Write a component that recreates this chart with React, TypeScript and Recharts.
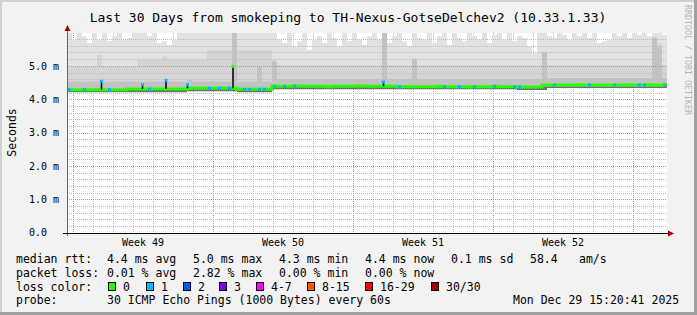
import { ComposedChart, Area, Line, XAxis, YAxis, ReferenceLine, CartesianGrid } from "recharts";

// Smokeping "Last 30 Days" graph: smoke bands + loss-coloured median.
// One column = 6 hours (120 columns over 30 days), values in ms.

const MEDIAN = [
  4.30, 4.30, 4.30, 4.30, 4.30, 4.30, 4.30, 4.30, 4.30, 4.30,
  4.30, 4.30, 4.32, 4.32, 4.32, 4.32, 4.32, 4.32, 4.32, 4.32,
  4.32, 4.32, 4.32, 4.32, 4.34, 4.34, 4.34, 4.34, 4.34, 4.34,
  4.34, 4.34, 4.34, 4.34, 4.31, 4.31, 4.31, 4.31, 4.31, 4.31,
  4.31, 4.40, 4.40, 4.40, 4.40, 4.41, 4.40, 4.40, 4.40, 4.40,
  4.40, 4.40, 4.39, 4.40, 4.40, 4.40, 4.40, 4.40, 4.41, 4.40,
  4.40, 4.40, 4.40, 4.40, 4.40, 4.40, 4.39, 4.39, 4.39, 4.39,
  4.39, 4.39, 4.39, 4.39, 4.40, 4.39, 4.39, 4.39, 4.39, 4.39,
  4.38, 4.39, 4.39, 4.39, 4.39, 4.40, 4.39, 4.39, 4.39, 4.39,
  4.38, 4.38, 4.38, 4.38, 4.38, 4.44, 4.44, 4.44, 4.44, 4.44,
  4.44, 4.44, 4.45, 4.44, 4.44, 4.44, 4.44, 4.44, 4.43, 4.44,
  4.44, 4.44, 4.45, 4.44, 4.44, 4.44, 4.45, 4.44, 4.44, 4.44,
];

// lost pings per column (0 = green, 1 = light blue)
const LOSS = [
  1, 0, 0, 1, 0, 0, 0, 0, 1, 0,
  0, 0, 0, 0, 0, 0, 1, 0, 0, 0,
  0, 0, 0, 0, 0, 0, 0, 0, 1, 0,
  1, 0, 1, 0, 0, 1, 1, 0, 1, 1,
  0, 1, 0, 1, 0, 1, 0, 0, 0, 0,
  0, 0, 0, 0, 0, 0, 0, 0, 0, 0,
  0, 0, 0, 0, 0, 0, 1, 0, 0, 0,
  0, 0, 0, 0, 0, 1, 0, 0, 1, 0,
  0, 1, 0, 0, 0, 1, 0, 0, 0, 1,
  1, 0, 0, 0, 0, 0, 0, 1, 0, 0,
  0, 0, 0, 0, 1, 0, 0, 0, 0, 1,
  0, 0, 0, 0, 1, 1, 0, 0, 0, 1,
];

// short latency spikes (position in columns, median before, peak, lost pings at peak)
const SPIKE_T = [6.9, 15.1, 19.8, 24.1, 33.2, 63.3];
const SPIKE_BASE = [4.30, 4.32, 4.32, 4.34, 4.34, 4.40];
const SPIKE_TOP = [4.55, 4.45, 4.58, 4.45, 5.00, 4.53];
const SPIKE_LOSS = [1, 1, 1, 1, 0, 1];

// fastest ping
const LOW = [
  4.22, 4.22, 4.22, 4.22, 4.22, 4.22, 4.22, 4.22, 4.22, 4.22,
  4.22, 4.22, 4.22, 4.22, 4.22, 4.22, 4.22, 4.22, 4.22, 4.22,
  4.22, 4.22, 4.22, 4.22, 4.25, 4.25, 4.25, 4.25, 4.25, 4.25,
  4.25, 4.25, 4.25, 4.25, 4.22, 4.22, 4.22, 4.22, 4.22, 4.22,
  4.22, 4.31, 4.31, 4.31, 4.31, 4.31, 4.31, 4.31, 4.31, 4.31,
  4.31, 4.31, 4.31, 4.31, 4.31, 4.31, 4.31, 4.31, 4.31, 4.31,
  4.31, 4.31, 4.31, 4.31, 4.31, 4.31, 4.31, 4.31, 4.31, 4.31,
  4.31, 4.31, 4.31, 4.31, 4.31, 4.31, 4.31, 4.31, 4.31, 4.31,
  4.31, 4.31, 4.31, 4.31, 4.31, 4.31, 4.31, 4.31, 4.31, 4.31,
  4.29, 4.29, 4.29, 4.29, 4.29, 4.29, 4.35, 4.35, 4.35, 4.35,
  4.35, 4.35, 4.35, 4.35, 4.35, 4.35, 4.35, 4.35, 4.35, 4.35,
  4.35, 4.35, 4.35, 4.35, 4.35, 4.35, 4.35, 4.35, 4.35, 4.35,
];

// top of the dense smoke just above the median
const INNER = [
  4.55, 4.55, 4.55, 4.55, 4.55, 4.55, 4.55, 4.55, 4.55, 4.55,
  4.55, 4.55, 4.55, 4.55, 4.55, 4.55, 4.55, 4.55, 4.55, 4.55,
  4.55, 4.55, 4.55, 4.55, 4.60, 4.55, 4.55, 4.55, 4.55, 4.55,
  4.55, 4.55, 4.55, 6.20, 4.55, 4.55, 4.55, 4.55, 5.00, 4.55,
  4.55, 5.15, 4.62, 4.62, 4.62, 4.62, 4.62, 4.62, 4.62, 4.62,
  4.62, 4.62, 4.62, 4.62, 4.62, 4.62, 4.62, 4.62, 4.62, 4.62,
  4.62, 4.62, 4.62, 6.20, 4.62, 4.62, 4.62, 4.62, 4.62, 5.20,
  4.62, 4.62, 4.62, 4.62, 4.62, 4.62, 4.62, 4.62, 4.62, 4.62,
  4.62, 4.62, 4.62, 4.62, 4.62, 4.62, 4.62, 4.62, 4.62, 4.62,
  4.62, 4.62, 4.62, 4.62, 4.62, 5.40, 4.66, 4.66, 4.66, 4.66,
  4.66, 4.66, 4.66, 4.66, 4.66, 4.66, 4.66, 4.66, 4.66, 4.66,
  4.66, 4.66, 4.66, 4.66, 4.66, 4.66, 4.66, 5.85, 5.60, 4.66,
];

// top of the medium smoke
const OUTER = [
  5.00, 5.00, 5.00, 5.00, 5.00, 5.00, 5.35, 5.00, 5.00, 5.00,
  5.00, 5.00, 5.00, 5.00, 5.20, 5.20, 5.20, 5.20, 5.20, 5.30,
  5.20, 5.20, 5.20, 5.20, 5.20, 5.20, 5.20, 5.20, 5.50, 5.50,
  5.50, 5.50, 5.50, 6.20, 5.50, 5.50, 5.50, 5.50, 5.50, 5.50,
  5.50, 5.20, 5.05, 5.05, 5.05, 5.05, 5.05, 5.05, 5.05, 5.05,
  5.05, 5.05, 5.05, 5.05, 5.05, 5.05, 5.05, 5.05, 5.05, 5.05,
  5.05, 5.05, 5.05, 6.20, 5.05, 5.05, 5.05, 5.05, 5.05, 5.25,
  5.05, 5.05, 5.05, 5.05, 5.05, 5.05, 5.05, 5.05, 5.05, 5.05,
  5.05, 5.05, 5.05, 5.05, 5.05, 5.05, 5.05, 5.05, 5.05, 5.05,
  5.05, 5.05, 5.05, 5.05, 5.05, 5.45, 5.05, 5.05, 5.05, 5.05,
  5.05, 5.05, 5.05, 5.05, 5.05, 5.05, 5.05, 5.05, 5.05, 5.05,
  5.05, 5.05, 5.05, 5.05, 5.05, 5.05, 5.05, 5.90, 5.70, 5.05,
];

// slowest ping (above 6.0 is clipped at the top of the graph)
const MAX = [
  6.20, 5.80, 6.00, 5.90, 5.70, 6.20, 5.80, 6.20, 5.75, 5.90,
  6.20, 5.80, 5.85, 6.20, 6.20, 6.20, 5.90, 6.00, 5.70, 5.75,
  5.65, 5.80, 6.20, 6.20, 6.20, 6.20, 6.00, 6.20, 6.20, 6.20,
  6.20, 6.20, 6.10, 6.20, 6.20, 6.20, 6.20, 6.00, 6.20, 6.20,
  6.20, 6.20, 5.80, 5.70, 6.00, 5.60, 5.75, 6.20, 5.50, 5.80,
  5.90, 5.70, 6.20, 5.85, 5.60, 6.00, 5.75, 6.20, 5.80, 5.65,
  5.90, 6.20, 5.80, 6.20, 5.70, 5.90, 6.00, 5.75, 5.60, 6.20,
  5.85, 5.80, 6.20, 5.70, 5.90, 6.00, 5.65, 6.20, 5.85, 5.75,
  6.20, 5.90, 5.80, 6.20, 5.70, 5.95, 6.00, 5.80, 6.20, 5.75,
  5.90, 5.85, 5.60, 5.40, 6.00, 6.20, 5.90, 5.85, 6.20, 5.95,
  5.80, 6.20, 5.90, 6.00, 5.85, 6.20, 5.70, 5.75, 5.80, 6.20,
  5.90, 6.00, 5.85, 6.20, 5.95, 6.20, 5.90, 6.20, 6.20, 5.95,
];

const TITLE = "Last 30 Days from smokeping to TH-Nexus-GotseDelchev2 (10.33.1.33)";
const WEEK_TICKS = [15.2, 43.2, 71.2, 99.2];
const WEEK_LABELS = ["Week 49", "Week 50", "Week 51", "Week 52"];
const Y_TICKS = [0, 1, 2, 3, 4, 5];

const RTT_STATS = ["4.4 ms avg", "5.0 ms max", "4.3 ms min", "4.4 ms now", "0.1 ms sd"];
const LOSS_STATS = ["0.01 % avg", "2.82 % max", "0.00 % min", "0.00 % now"];
const AM_S = ["58.4", "am/s"];
const LOSS_BUCKETS = ["0", "1", "2", "3", "4-7", "8-15", "16-29", "30/30"];
const LOSS_COLORS = ["#26ff00", "#00b8ff", "#0059ff", "#7e00ff", "#ff00ff", "#ff5500", "#ff0000", "#a10000"];
const PROBE = "30 ICMP Echo Pings (1000 Bytes) every 60s";
const STAMP = "Mon Dec 29 15:20:41 2025";

const rows = MEDIAN.map((m, i) => ({
  t: i,
  median: m,
  core: [LOW[i], m],
  inner: [m, INNER[i]],
  mid: [INNER[i], OUTER[i]],
  outer: [OUTER[i], MAX[i]],
  loss: LOSS[i],
}));
// closing point so the last step reaches the right edge
rows.push({ ...rows[rows.length - 1], t: MEDIAN.length, loss: 0 });

// each spike: a vertical segment from the median to the peak, then a break
const spikeRows = SPIKE_T.flatMap((t, i) => [
  { t, v: SPIKE_BASE[i], loss: -1 },
  { t, v: SPIKE_TOP[i], loss: SPIKE_LOSS[i] },
  { t: t + 0.01, v: null, loss: -1 },
]);

// grid: daily minor lines, weekly (Monday) major lines; 0.2 ms minor, 1 ms major
const DAY_LINES: number[] = [];
for (let k = 0; k < 30; k++) DAY_LINES.push(1.2 + 4 * k);
const Y_MINOR: number[] = [];
for (let k = 1; k < 30; k++) if (k % 5 !== 0) Y_MINOR.push(k / 5);

// plot geometry (left edge and pixels per 6h column), used for the vertical grid
const PLOT_LEFT = 67;
const PX_PER_COL = 5;
const dayPx = (v: number) => Math.floor(PLOT_LEFT + PX_PER_COL * v) + 0.5;
const MINOR_DAYS = DAY_LINES.filter((_, k) => k % 7 !== 0).map(dayPx);
const MAJOR_DAYS = DAY_LINES.filter((_, k) => k % 7 === 0).map(dayPx);

const MONO = "'DejaVu Sans Mono', monospace";
const MINOR = "#bcbcbc";
const MAJOR = "#e48080";

const fmtY = (v: number) => (v === 0 ? "0.0" : `${v.toFixed(1)} m`);

// horizontal dotted grid line snapped onto the pixel grid, like rrdtool draws it
const snap = (v: number) => Math.floor(v) + 0.5;
const hGrid = (p: any) => (
  <line x1={p.x1} x2={p.x2} y1={snap(p.y1)} y2={snap(p.y2)}
    stroke={p.stroke} strokeWidth={1} strokeDasharray="1 1" />
);

const YTick = (props: any) => {
  const { x, y, payload } = props;
  return (
    <text x={payload.value === 0 ? x - 12 : x} y={y + 3.3} textAnchor="end"
      fontFamily={MONO} fontSize={10} fill="#000">
      {fmtY(payload.value)}
    </text>
  );
};

const WeekTick = (props: any) => {
  const { x, y, payload } = props;
  return (
    <text x={x} y={y + 13} textAnchor="middle" fontFamily={MONO} fontSize={10} fill="#000">
      {WEEK_LABELS[WEEK_TICKS.indexOf(payload.value)]}
    </text>
  );
};

const lossDot = (props: any) => {
  const { cx, cy, payload, index } = props;
  if (!payload || !payload.loss || cx == null) return <g key={`d${index}`} />;
  return <rect key={`d${index}`} x={cx + 1} y={cy - 1.5} width={3} height={3} fill={LOSS_COLORS[payload.loss]} />;
};

const spikeDot = (props: any) => {
  const { cx, cy, payload, index } = props;
  if (!payload || payload.loss < 0 || cx == null || cy == null) return <g key={`s${index}`} />;
  return <rect key={`s${index}`} x={cx - 1.5} y={cy - 1.5} width={3} height={3} fill={LOSS_COLORS[payload.loss]} />;
};

const STAT_X = [107, 193, 279, 365, 451];
const BOX_X = [108, 146, 183, 219, 256, 307, 365, 431];

export default function App() {
  const txt = { fontFamily: MONO, fontSize: 11.5, fill: "#000" } as const;
  return (
    <div style={{ position: "absolute", left: 0, top: 0, width: 697, height: 315, background: "#f2f2f2", overflow: "hidden" }}>
      <div style={{ position: "absolute", left: 67, top: 33, width: 600, height: 200, background: "#fff" }} />
      <div style={{ position: "absolute", left: 0, top: 0 }}>
        <ComposedChart width={697} height={315} data={rows} margin={{ top: 33, right: 30, bottom: 62, left: 7 }}>
          <CartesianGrid horizontal={false} verticalPoints={MINOR_DAYS} stroke={MINOR} strokeDasharray="1 1" />
          <CartesianGrid horizontal={false} verticalPoints={MAJOR_DAYS} stroke={MAJOR} strokeDasharray="1 1" />
          <XAxis type="number" dataKey="t" domain={[0, 120]} ticks={WEEK_TICKS} allowDataOverflow
            axisLine={false} tickLine={false} tickSize={0} tickMargin={0} height={20} tick={<WeekTick />} />
          <YAxis type="number" domain={[0, 6]} ticks={Y_TICKS} allowDataOverflow width={60}
            axisLine={false} tickLine={false} tickSize={0} tickMargin={8} tick={<YTick />} />
          <Area type="stepAfter" dataKey="outer" stroke="none" fill="#e2e2e2" fillOpacity={1} isAnimationActive={false} />
          <Area type="stepAfter" dataKey="mid" stroke="none" fill="#d4d4d4" fillOpacity={1} isAnimationActive={false} />
          <Area type="stepAfter" dataKey="inner" stroke="none" fill="#c2c2c2" fillOpacity={1} isAnimationActive={false} />
          <Area type="stepAfter" dataKey="core" stroke="none" fill="#6e6e6e" fillOpacity={1} isAnimationActive={false} />
          {Y_MINOR.map((v) => (
            <ReferenceLine key={`ym${v}`} y={v} stroke={MINOR} shape={hGrid} />
          ))}
          {Y_TICKS.filter((v) => v > 0).map((v) => (
            <ReferenceLine key={`yM${v}`} y={v} stroke={MAJOR} shape={hGrid} />
          ))}
          <Line type="stepAfter" dataKey="median" stroke={LOSS_COLORS[0]} strokeWidth={3}
            dot={lossDot} activeDot={false} isAnimationActive={false} />
          <Line data={spikeRows} type="linear" dataKey="v" stroke="#000" strokeWidth={1.5}
            dot={spikeDot} activeDot={false} connectNulls={false} isAnimationActive={false} />
        </ComposedChart>
      </div>
      <svg width={697} height={315} style={{ position: "absolute", left: 0, top: 0, pointerEvents: "none" }}>
        {/* frame shading */}
        <rect x={0} y={0} width={697} height={2} fill="#d0d0d0" />
        <rect x={0} y={0} width={2} height={315} fill="#d0d0d0" />
        <rect x={694} y={0} width={3} height={315} fill="#a0a0a0" />
        <rect x={0} y={312} width={697} height={3} fill="#a0a0a0" />

        <text x={348} y={22} textAnchor="middle" fontFamily={MONO} fontSize={13} fill="#000">{TITLE}</text>
        <text transform="translate(685,5) rotate(90)" fontFamily={MONO} fontSize={8.3} fill="#b4b4b4">
          RRDTOOL / TOBI OETIKER
        </text>
        <text transform="translate(15.5,132.5) rotate(-90)" textAnchor="middle" fontFamily={MONO} fontSize={11.5} fill="#000">
          Seconds
        </text>

        {/* axes */}
        <line x1={67.5} y1={236} x2={67.5} y2={29} stroke="#666" strokeWidth={1} />
        <polygon points="64.5,31 70.5,31 67.5,25" fill="#a80000" />
        <line x1={63} y1={233.5} x2={669} y2={233.5} stroke="#000" strokeWidth={1} />
        <polygon points="668,230.5 668,236.5 674,233.5" fill="#a80000" />

        {/* legend */}
        <text x={16} y={263} {...txt}>median rtt:</text>
        {RTT_STATS.map((s, i) => (
          <text key={`r${i}`} x={STAT_X[i]} y={263} {...txt}>{s}</text>
        ))}
        <text x={530} y={263} {...txt}>{AM_S[0]}</text>
        <text x={579} y={263} {...txt}>{AM_S[1]}</text>

        <text x={16} y={277} {...txt}>packet loss:</text>
        {LOSS_STATS.map((s, i) => (
          <text key={`l${i}`} x={STAT_X[i]} y={277} {...txt}>{s}</text>
        ))}

        <text x={16} y={290.5} {...txt}>loss color:</text>
        {LOSS_BUCKETS.map((b, i) => (
          <g key={`b${i}`}>
            <rect x={BOX_X[i] + 0.5} y={282.5} width={7} height={8} fill={LOSS_COLORS[i]} stroke="#000" strokeWidth={1} />
            <text x={BOX_X[i] + 15} y={290.5} {...txt}>{b}</text>
          </g>
        ))}

        <text x={16} y={304} {...txt}>probe:</text>
        <text x={107} y={304} {...txt}>{PROBE}</text>
        <text x={513} y={304} {...txt}>{STAMP}</text>
      </svg>
    </div>
  );
}
